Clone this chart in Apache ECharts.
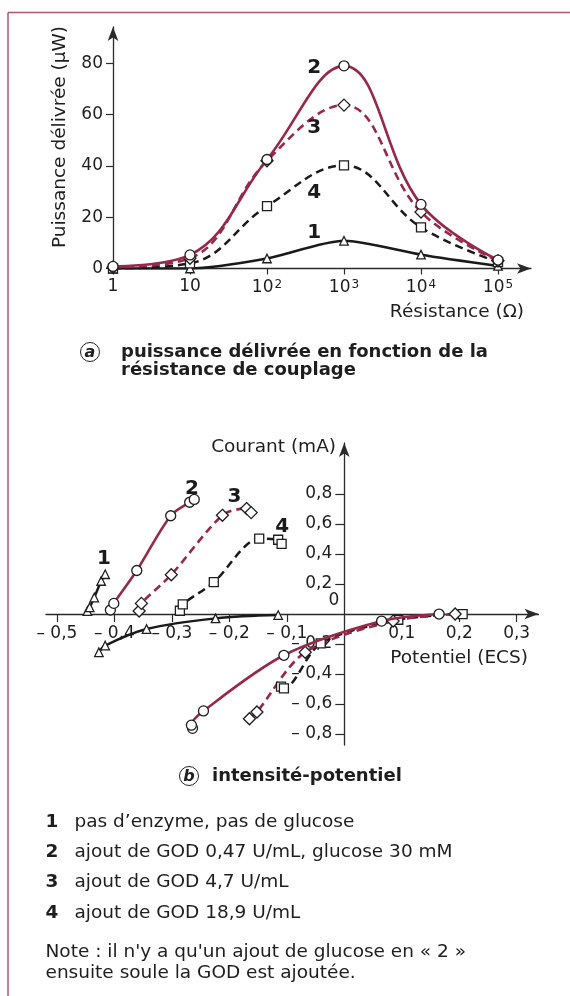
<!DOCTYPE html>
<html><head><meta charset="utf-8">
<script src="https://cdn.jsdelivr.net/npm/echarts@6/dist/echarts.min.js"></script>
<style>html,body{margin:0;padding:0;background:#fff}#c{width:570px;height:996px}</style>
</head><body><div id="c"></div>
<script>
// ---------- Chart (a): power vs resistance ----------
const resistance = [1, 10, 100, 1000, 10000, 100000];
const power1 = [0, 0, 3.9, 10.8, 5.4, 1.0];
const power2 = [0.8, 5.3, 42.5, 79, 25, 3.3];
const power3 = [0.5, 4, 42, 63.7, 22, 3];
const power4 = [0, 2, 24.3, 40.2, 16, 2.5];
const powerTicks = [0, 20, 40, 60, 80];
const resistanceTicks = [1, 10, 100, 1000, 10000, 100000];
const labelsA = [['2', 410, 78.3], ['3', 410, 54.8], ['4', 410, 29.6], ['1', 410, 14]];

// ---------- Chart (b): current vs potential ----------
const cv1Anodic = [[-0.447, 0.02], [-0.443, 0.045], [-0.435, 0.11], [-0.423, 0.22], [-0.416, 0.265]];
const cv1Cathodic = [[-0.427, -0.255], [-0.416, -0.21], [-0.344, -0.1], [-0.224, -0.029], [-0.115, -0.007]];
const cv2Anodic = [[-0.407, 0.027], [-0.401, 0.071], [-0.361, 0.29], [-0.302, 0.655], [-0.269, 0.745], [-0.261, 0.764]];
const cv2Cathodic = [[-0.264, -0.762], [-0.266, -0.741], [-0.245, -0.646], [-0.105, -0.275], [0.065, -0.047], [0.165, 0]];
const cv3Anodic = [[-0.357, 0.02], [-0.353, 0.071], [-0.301, 0.262], [-0.212, 0.658], [-0.170, 0.703], [-0.162, 0.676]];
const cv3Cathodic = [[-0.165, -0.698], [-0.152, -0.653], [-0.068, -0.255], [0.085, -0.047], [0.193, 0]];
const cv4Anodic = [[-0.286, 0.022], [-0.281, 0.065], [-0.227, 0.212], [-0.148, 0.502], [-0.115, 0.495], [-0.109, 0.468]];
const cv4Cathodic = [[-0.110, -0.484], [-0.105, -0.495], [-0.041, -0.196], [0.094, -0.038], [0.206, 0]];
const potentialTicks = [-0.5, -0.4, -0.3, -0.2, -0.1, 0.1, 0.2, 0.3];
const currentTicks = [-0.8, -0.6, -0.4, -0.2, 0.2, 0.4, 0.6, 0.8];
const labelsB = [['1', -0.418, 0.37], ['2', -0.265, 0.836], ['3', -0.191, 0.78], ['4', -0.108, 0.584]];

const legendItems = [
  ['1', 'pas d’enzyme, pas de glucose'],
  ['2', 'ajout de GOD 0,47 U/mL, glucose 30 mM'],
  ['3', 'ajout de GOD 4,7 U/mL'],
  ['4', 'ajout de GOD 18,9 U/mL']
];
const noteLines = ['Note : il n\'y a qu\'un ajout de glucose en « 2 »', 'ensuite soule la GOD est ajoutée.'];

// ---------- styles ----------
const FONT = 'DejaVu Sans';
const MAROON = '#962848';
const BLACK = '#1a1a1a';
const AXIS = '#2a2a2a';
const TXT = '#1e1e1e';
const TICKFS = 17;

const chart = echarts.init(document.getElementById('c'), null, {renderer: 'canvas'});

function mk(sym, size) {
  return {symbol: sym, symbolSize: size, itemStyle: {color: '#fff', borderColor: '#1e1e1e', borderWidth: 1.3}};
}
const markers = {
  1: mk('triangle', 8.5), 2: mk('circle', 10), 3: mk('diamond', 12), 4: mk('rect', 9)
};
const lineStyles = {
  1: {color: BLACK, width: 2.5, type: 'solid'},
  2: {color: MAROON, width: 2.6, type: 'solid'},
  3: {color: MAROON, width: 2.6, type: [8, 5]},
  4: {color: BLACK, width: 2.5, type: [8, 5]}
};
function lineSeries(id, data, xi, smooth) {
  return Object.assign({
    type: 'line', xAxisIndex: xi, yAxisIndex: xi, data: data,
    smooth: smooth, lineStyle: lineStyles[id], showAllSymbol: true,
    z: id === 2 ? 4 : 3, animation: false
  }, markers[id]);
}
const zipA = arr => resistance.map((r, i) => [r, arr[i]]);

function fmt(v) {
  const s = Math.abs(v).toFixed(1).replace('.', ',');
  return v < 0 ? '– ' + s : s;
}

function labelSeries(arr, xi) {
  return {
    type: 'scatter', xAxisIndex: xi, yAxisIndex: xi, symbolSize: 0, silent: true, animation: false, z: 6,
    itemStyle: {opacity: 1},
    data: arr.map(d => ({value: [d[1], d[2]], name: d[0]})),
    label: {show: true, position: 'inside', formatter: p => p.name, textBorderWidth: 0, opacity: 1,
      fontFamily: FONT, fontWeight: 'bold', fontSize: 20, color: '#1a1a1a'}
  };
}

function txt(text, x, y, opts) {
  return Object.assign({type: 'text', x: x, y: y, silent: true,
    style: Object.assign({text: text, font: '18.5px "' + FONT + '"', fill: TXT, align: 'left', verticalAlign: 'middle'}, opts || {})});
}
function circled(letter, x, y) {
  return {type: 'group', x: x, y: y, children: [
    {type: 'circle', shape: {cx: 0, cy: 0, r: 9.5}, style: {fill: '#fff', stroke: '#222', lineWidth: 1}},
    {type: 'text', x: 0, y: 0.5, style: {text: letter, font: 'italic bold 16px "' + FONT + '"', fill: TXT, align: 'center', verticalAlign: 'middle'}}
  ]};
}
const BOLD = 'bold 18px "' + FONT + '"';
const graphics = [
  {type: 'line', shape: {x1: 8, y1: 12.5, x2: 570, y2: 12.5}, style: {stroke: '#b5546e', lineWidth: 1.5}},
  {type: 'line', shape: {x1: 8, y1: 12.5, x2: 8, y2: 996}, style: {stroke: '#b5546e', lineWidth: 1.5}},
  txt('Puissance délivrée (µW)', 60, 137, {align: 'center'}),
  txt('Résistance (Ω)', 524, 312, {align: 'right'}),
  circled('a', 90, 352),
  txt('puissance délivrée en fonction de la', 121, 352, {font: BOLD}),
  txt('résistance de couplage', 121, 370, {font: BOLD}),
  txt('Courant (mA)', 336, 447, {align: 'right'}),
  txt('Potentiel (ECS)', 528, 658, {align: 'right'}),
  txt('0', 334, 601, {align: 'center', font: TICKFS + 'px "' + FONT + '"'}),
  circled('b', 189, 776),
  txt('intensité-potentiel', 212, 776, {font: BOLD})
];
graphics[2].rotation = Math.PI / 2;
const legendY = [822, 852, 882, 913];
legendItems.forEach((it, i) => {
  graphics.push(txt(it[0], 45.5, legendY[i], {font: 'bold 18.5px "' + FONT + '"'}));
  graphics.push(txt(it[1], 74.5, legendY[i]));
});
noteLines.forEach((l, i) => graphics.push(txt(l, 45.5, 952 + i * 21.5)));

// bottom grid geometry: axes cross at data zero
const gB = {left: 46, top: 443, width: 492.5, height: 302};
const xMinB = -0.519, xMaxB = 0.338, yMinB = -0.873, yMaxB = 1.14;
const yAxisOffsetB = -(-xMinB) / (xMaxB - xMinB) * gB.width;
const xAxisOffsetB = -(-yMinB) / (yMaxB - yMinB) * gB.height;

const option = {
  animation: false,
  backgroundColor: '#fff',
  textStyle: {fontFamily: FONT},
  grid: [
    {left: 113, top: 27, width: 418, height: 241.5},
    gB
  ],
  xAxis: [
    {type: 'log', gridIndex: 0, min: 1, max: 268300, logBase: 10,
      axisLine: {onZero: false, symbol: ['none', 'arrow'], symbolSize: [8, 14], lineStyle: {color: AXIS, width: 1.3}},
      axisTick: {show: true, length: 6, lineStyle: {color: AXIS, width: 1.2}, customValues: resistanceTicks},
      axisLabel: {customValues: resistanceTicks, margin: 10, color: TXT, fontSize: TICKFS, fontFamily: FONT,
        formatter: v => { const e = Math.round(Math.log10(v)); return e <= 1 ? String(Math.round(v)) : '10{s|' + e + '}'; },
        rich: {s: {fontSize: 12, fontFamily: FONT, color: TXT, verticalAlign: 'top', padding: [0, 0, 7, 1]}}},
      splitLine: {show: false}, minorTick: {show: false}
    },
    {type: 'value', gridIndex: 1, min: xMinB, max: xMaxB, position: 'bottom', offset: xAxisOffsetB,
      axisLine: {onZero: false, symbol: ['none', 'arrow'], symbolSize: [8, 14], lineStyle: {color: AXIS, width: 1.3}},
      axisTick: {show: true, length: 8, lineStyle: {color: AXIS, width: 1.2}, customValues: potentialTicks},
      axisLabel: {customValues: potentialTicks, margin: 11, color: TXT, fontSize: TICKFS, fontFamily: FONT, formatter: fmt},
      splitLine: {show: false}
    }
  ],
  yAxis: [
    {type: 'value', gridIndex: 0, min: 0, max: 94.15,
      axisLine: {show: true, onZero: false, symbol: ['none', 'arrow'], symbolSize: [8, 14], lineStyle: {color: AXIS, width: 1.3}},
      axisTick: {show: true, length: 7, lineStyle: {color: AXIS, width: 1.2}, customValues: powerTicks},
      axisLabel: {customValues: powerTicks, margin: 10, color: TXT, fontSize: TICKFS, fontFamily: FONT},
      splitLine: {show: false}
    },
    {type: 'value', gridIndex: 1, min: yMinB, max: yMaxB, position: 'left', offset: yAxisOffsetB,
      axisLine: {show: true, onZero: false, symbol: ['none', 'arrow'], symbolSize: [8, 14], lineStyle: {color: AXIS, width: 1.3}},
      axisTick: {show: true, length: 9, lineStyle: {color: AXIS, width: 1.2}, customValues: currentTicks},
      axisLabel: {customValues: currentTicks, margin: 12, color: TXT, fontSize: TICKFS, fontFamily: FONT, formatter: fmt},
      splitLine: {show: false}
    }
  ],
  series: [
    lineSeries(1, zipA(power1), 0, 0.25),
    lineSeries(4, zipA(power4), 0, 0.4),
    lineSeries(3, zipA(power3), 0, 0.4),
    lineSeries(2, zipA(power2), 0, 0.4),
    labelSeries(labelsA, 0),
    lineSeries(1, cv1Anodic, 1, 0.2),
    lineSeries(1, cv1Cathodic, 1, 0.35),
    lineSeries(4, cv4Anodic, 1, 0.3),
    lineSeries(4, cv4Cathodic, 1, 0.3),
    lineSeries(3, cv3Anodic, 1, 0.3),
    lineSeries(3, cv3Cathodic, 1, 0.3),
    lineSeries(2, cv2Anodic, 1, 0.3),
    lineSeries(2, cv2Cathodic, 1, 0.3),
    labelSeries(labelsB, 1)
  ],
  graphic: graphics
};
chart.setOption(option);
</script>
</body></html>
